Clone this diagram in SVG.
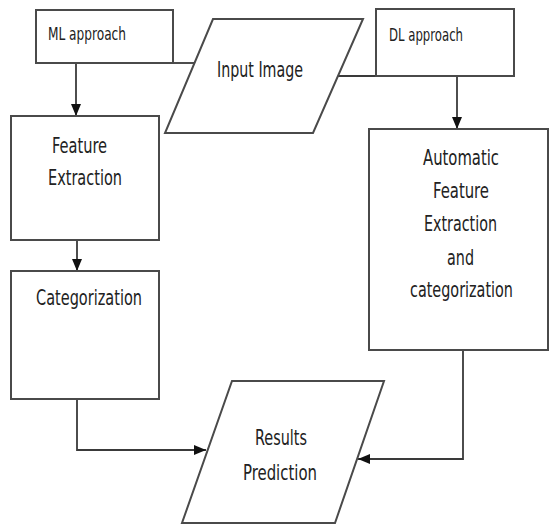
<svg xmlns="http://www.w3.org/2000/svg" width="549" height="527" viewBox="0 0 549 527">
<style>
.box{fill:#fff;stroke:#4a4a4a;stroke-width:2}
.ln{fill:none;stroke:#3a3a3a;stroke-width:1.8}
text{font-family:"DejaVu Sans Condensed","Liberation Sans",sans-serif;fill:#222}
.s{font-size:17px}
.b{font-size:21px}
</style>
<defs>
<marker id="ah2" viewBox="0 0 12 10" refX="12" refY="5" markerWidth="12" markerHeight="10" markerUnits="userSpaceOnUse" orient="auto">
<path d="M0,0 L12,5 L0,10 z" fill="#111"/>
</marker>
</defs>
<rect width="549" height="527" fill="#fff"/>
<g id="connectors">
<line class="ln" x1="173" y1="63" x2="196" y2="63"/>
<line class="ln" x1="338" y1="76" x2="376" y2="76"/>
<line class="ln" x1="76" y1="63" x2="76" y2="116" marker-end="url(#ah2)"/>
<line class="ln" x1="457" y1="76" x2="457" y2="129" marker-end="url(#ah2)"/>
<line class="ln" x1="77" y1="240" x2="77" y2="271" marker-end="url(#ah2)"/>
<polyline class="ln" points="77,399 77,450 206,450" marker-end="url(#ah2)"/>
<polyline class="ln" points="463,350 463,459 358,459" marker-end="url(#ah2)"/>
</g>
<g id="ml">
<rect class="box" x="36" y="10" width="137" height="53"/>
<text class="s" x="48" y="40" textLength="78" lengthAdjust="spacingAndGlyphs">ML approach</text>
</g>
<g id="input">
<polygon class="box" points="213,19 363,19 313,133 165,133"/>
<text class="b" x="217" y="77" textLength="86" lengthAdjust="spacingAndGlyphs">Input Image</text>
</g>
<g id="dl">
<rect class="box" x="376" y="9" width="138" height="67"/>
<text class="s" x="389" y="41" textLength="74" lengthAdjust="spacingAndGlyphs">DL approach</text>
</g>
<g id="feature">
<rect class="box" x="11" y="116" width="148" height="124"/>
<text class="b" x="52" y="153" textLength="55" lengthAdjust="spacingAndGlyphs">Feature</text>
<text class="b" x="48" y="185" textLength="74" lengthAdjust="spacingAndGlyphs">Extraction</text>
</g>
<g id="categorization">
<rect class="box" x="11" y="271" width="148" height="128"/>
<text class="b" x="36" y="305" textLength="106" lengthAdjust="spacingAndGlyphs">Categorization</text>
</g>
<g id="auto">
<rect class="box" x="369" y="129" width="179" height="221"/>
<text class="b" x="423" y="165" textLength="76" lengthAdjust="spacingAndGlyphs">Automatic</text>
<text class="b" x="433" y="198" textLength="56" lengthAdjust="spacingAndGlyphs">Feature</text>
<text class="b" x="424" y="231" textLength="73" lengthAdjust="spacingAndGlyphs">Extraction</text>
<text class="b" x="447" y="265" textLength="27" lengthAdjust="spacingAndGlyphs">and</text>
<text class="b" x="410" y="297" textLength="103" lengthAdjust="spacingAndGlyphs">categorization</text>
</g>
<g id="results">
<polygon class="box" points="232,381 384,381 335,523 182,523"/>
<text class="b" x="255" y="445" textLength="52" lengthAdjust="spacingAndGlyphs">Results</text>
<text class="b" x="243" y="480" textLength="74" lengthAdjust="spacingAndGlyphs">Prediction</text>
</g>
</svg>
